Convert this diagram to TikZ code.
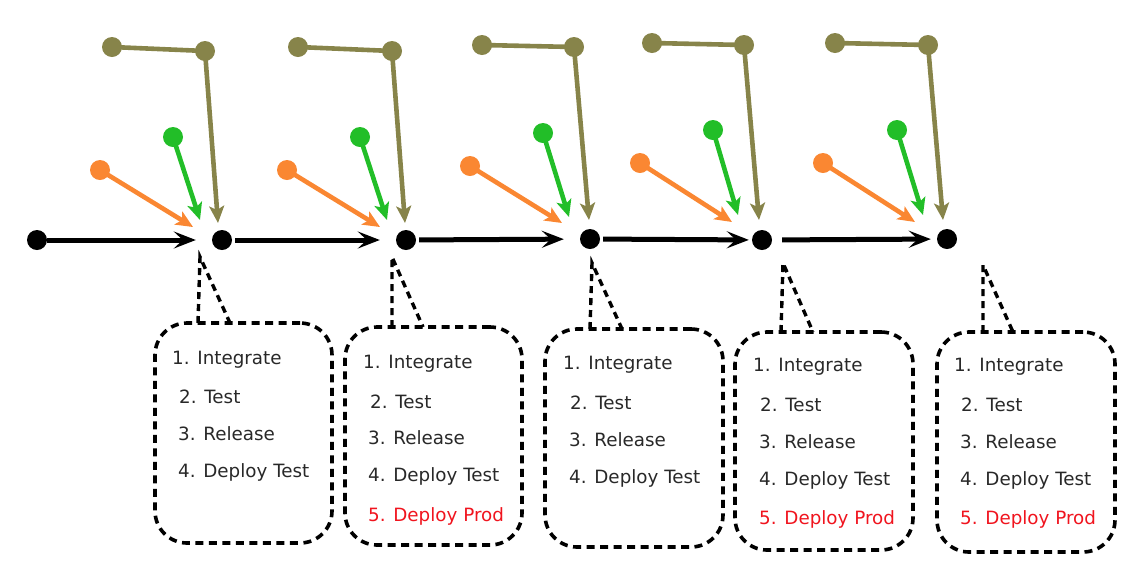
\documentclass[tikz,border=0pt]{standalone}
\usepackage{fontspec}
\setmainfont{DejaVu Sans}
\usetikzlibrary{arrows.meta}
\definecolor{cOlive}{RGB}{135,132,74}
\definecolor{cGreen}{RGB}{34,190,40}
\definecolor{cOrange}{RGB}{250,135,50}
\definecolor{cRed}{RGB}{240,20,30}
\definecolor{cText}{RGB}{40,40,40}
\begin{document}
\begin{tikzpicture}[x=1pt,y=-1pt,
  dotnode/.style={circle,fill=#1,inner sep=0pt,minimum size=20pt},
  flow/.style={line width=5pt,-{Stealth[length=22pt,width=17pt,inset=9pt]}},
  feed/.style={line width=4.6pt,draw=#1,-{Stealth[length=17pt,width=15pt,inset=4pt]}},
  callout/.style={draw,line width=3.6pt,dash pattern={on 8pt off 5.5pt},rounded corners=32pt,inner sep=0pt},
  tail/.style={draw,line width=3.4pt,dash pattern={on 7pt off 5pt}},
  item/.style={anchor=base west,inner sep=0pt,font=\fontsize{18.3}{20}\selectfont,text=cText},
  hot/.style={item,text=cRed}]
\useasboundingbox (0,0) rectangle (1140,566);

% main timeline nodes
\node[dotnode=black] (n0) at (37,240) {};
\node[dotnode=black] (n1) at (222,240) {};
\node[dotnode=black] (n2) at (406,240) {};
\node[dotnode=black] (n3) at (590,239) {};
\node[dotnode=black] (n4) at (762,240) {};
\node[dotnode=black] (n5) at (947,239) {};

\draw[flow,shorten >=16pt] (n0) -- (n1);
\draw[flow,shorten >=16pt,shorten <=3pt] (n1) -- (n2);
\draw[flow,shorten >=16pt,shorten <=3pt] (n2) -- (n3);
\draw[flow,shorten >=3pt,shorten <=3pt] (n3) -- (n4);
\draw[flow,shorten >=6pt,shorten <=10pt] (n4) -- (n5);

% feeding branches
\foreach \k/\olx/\oly/\orx/\ory/\otx/\oty/\gx/\gy/\gtx/\gty/\ax/\ay/\atx/\aty in {
  1/112/47/205/51/218/223/173/137/200/220/100/170/193/227,
  2/298/47/392/51/405/223/360/137/387/220/287/170/380/227,
  3/482/45/574/47/589/220/543/133/569/217/470/166/562/223,
  4/652/43/744/45/759/220/713/130/738/215/640/163/732/222,
  5/835/43/928/45/943/220/897/130/923/215/823/163/915/222}{
  \node[dotnode=cOlive] (ol\k) at (\olx,\oly) {};
  \node[dotnode=cOlive] (or\k) at (\orx,\ory) {};
  \coordinate (ot\k) at (\otx,\oty);
  \node[dotnode=cGreen] (g\k) at (\gx,\gy) {};
  \coordinate (gt\k) at (\gtx,\gty);
  \node[dotnode=cOrange] (a\k) at (\ax,\ay) {};
  \coordinate (at\k) at (\atx,\aty);
  \draw[line width=4.6pt,cOlive] (ol\k.center) -- (or\k.center);
  \draw[feed=cOlive] (or\k.center) -- (ot\k);
  \draw[feed=cGreen] (g\k.center) -- (gt\k);
  \draw[feed=cOrange] (a\k.center) -- (at\k);
}

% callouts
\node[callout,minimum width=177pt,minimum height=220pt] (b1) at (243.5,433) {};
\node[callout,minimum width=177pt,minimum height=218pt] (b2) at (433.5,436) {};
\node[callout,minimum width=178pt,minimum height=218pt] (b3) at (634,438) {};
\node[callout,minimum width=178pt,minimum height=218pt] (b4) at (824,441) {};
\node[callout,minimum width=178pt,minimum height=220pt] (b5) at (1026,442) {};

\coordinate (t1) at (200,257); \coordinate (t2) at (392,257);
\coordinate (t3) at (592,263); \coordinate (t4) at (783,263);
\coordinate (t5) at (983,265);
\draw[tail] (198,323) -- (t1) -- (230,323);
\draw[tail] (392,327) -- (t2) -- (423,327);
\draw[tail] (590,329) -- (t3) -- (622,329);
\draw[tail] (781,332) -- (t4) -- (813,332);
\draw[tail] (983,332) -- (t5) -- (1013,332);

% texts
\node[item] (b1i) at (172,364) {1. Integrate};
\node[item] (b1t) at (179,403) {2. Test};
\node[item] (b1r) at (178,440) {3. Release};
\node[item] (b1d) at (178,477) {4. Deploy Test};

\node[item] (b2i) at (363,368) {1. Integrate};
\node[item] (b2t) at (370,408) {2. Test};
\node[item] (b2r) at (368,444) {3. Release};
\node[item] (b2d) at (368,481) {4. Deploy Test};
\node[hot]  (b2p) at (368,521) {5. Deploy Prod};

\node[item] (b3i) at (563,369) {1. Integrate};
\node[item] (b3t) at (570,409) {2. Test};
\node[item] (b3r) at (569,446) {3. Release};
\node[item] (b3d) at (569,483) {4. Deploy Test};

\node[item] (b4i) at (753,371) {1. Integrate};
\node[item] (b4t) at (760,411) {2. Test};
\node[item] (b4r) at (759,448) {3. Release};
\node[item] (b4d) at (759,485) {4. Deploy Test};
\node[hot]  (b4p) at (759,524) {5. Deploy Prod};

\node[item] (b5i) at (954,371) {1. Integrate};
\node[item] (b5t) at (961,411) {2. Test};
\node[item] (b5r) at (960,448) {3. Release};
\node[item] (b5d) at (960,485) {4. Deploy Test};
\node[hot]  (b5p) at (960,524) {5. Deploy Prod};
\end{tikzpicture}
\end{document}
